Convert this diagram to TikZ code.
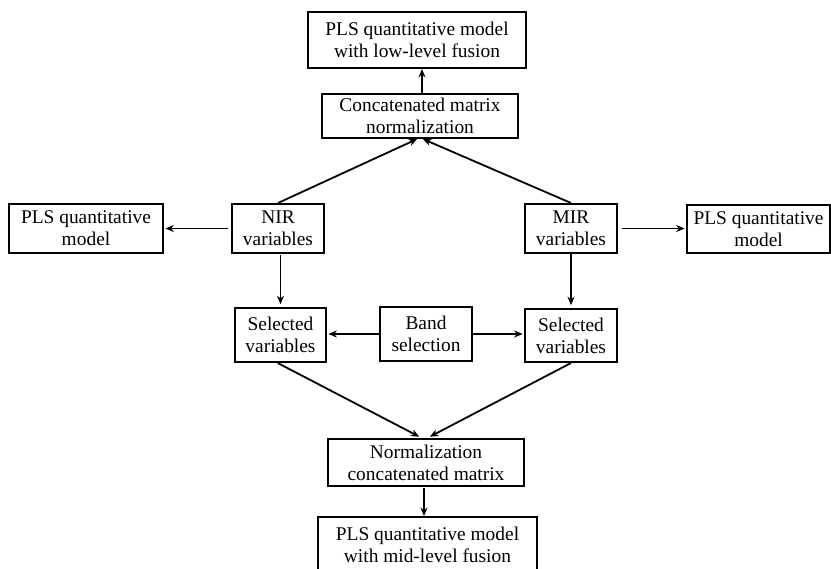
\documentclass[tikz,border=0pt]{standalone}
\usepackage{fontspec}
\setmainfont{Liberation Serif}
\usetikzlibrary{arrows.meta}

\tikzset{
	box/.style={draw, line width=0.5mm, align=center, inner sep=1pt, font=\fontsize{13.8}{15.8}\selectfont},
	arr/.style={line width=0.45mm, -{Stealth[length=6pt, width=5pt]}}
}

\begin{document}
\begin{tikzpicture}[x=0.025cm, y=-0.025cm]
			%%%%% START %%%%%
			
			\clip (0, 0) rectangle (831, 569);
			\fill[white] (0, 0) rectangle (831, 569);
			
			\node[box, minimum width=5.45cm, minimum height=1.4cm] (lowfus) at (417, 40) {PLS quantitative model\\with low-level fusion};
			\node[box, minimum width=4.9cm, minimum height=1.1cm] (concat) at (420, 116) {Concatenated matrix\\normalization};
			
			\node[box, minimum width=3.85cm, minimum height=1.225cm] (plsl) at (86, 228.5) {PLS quantitative\\model};
			\node[box, minimum width=2.3cm, minimum height=1.225cm] (nir) at (278, 228.5) {NIR\\variables};
			\node[box, minimum width=2.3cm, minimum height=1.225cm] (mir) at (571, 228.5) {MIR\\variables};
			\node[box, minimum width=3.575cm, minimum height=1.2cm] (plsr) at (758.5, 229) {PLS quantitative\\model};
			
			\node[box, minimum width=2.275cm, minimum height=1.35cm] (sell) at (280.5, 335) {Selected\\variables};
			\node[box, minimum width=2.3cm, minimum height=1.325cm] (band) at (426, 334) {Band\\selection};
			\node[box, minimum width=2.3cm, minimum height=1.325cm] (selr) at (571, 335.5) {Selected\\variables};
			
			\node[box, minimum width=4.9cm, minimum height=1.175cm] (norm) at (426, 462.5) {Normalization\\concatenated matrix};
			\node[box, minimum width=5.475cm, minimum height=1.4cm] (midfus) at (427.5, 545) {PLS quantitative model\\with mid-level fusion};
			
			% low-level branch
			\draw[arr] (concat.north -| 422, 0) -- (lowfus.south -| 422, 0);
			\draw[arr] (nir.north) -- ([xshift=-2pt]concat.south);
			\draw[arr] (mir.north) -- ([xshift=2pt]concat.south);
			
			% single spectra models
			\draw[arr, shorten <=2pt, shorten >=1pt] (nir.west) -- (nir.west -| plsl.east);
			\draw[arr, shorten <=3pt, shorten >=1pt] (mir.east) -- (mir.east -| plsr.west);
			
			% band selection
			\draw[arr, shorten <=1pt, shorten >=2pt] (nir.south -| sell.north) -- (sell.north);
			\draw[arr, shorten >=2pt] (mir.south) -- (selr.north);
			\draw[arr, shorten >=1pt] (band.west) -- (band.west -| sell.east);
			\draw[arr, shorten >=1pt] (band.east) -- (band.east -| selr.west);
			
			% mid-level branch
			\draw[arr, shorten >=2pt] ([xshift=-2pt]sell.south) -- ([xshift=-3pt]norm.north);
			\draw[arr, shorten >=2pt] (selr.south) -- ([xshift=1pt]norm.north);
			\draw[arr, shorten <=1pt] (norm.south -| 424, 0) -- (midfus.north -| 424, 0);
			
			%%%%% END %%%%%
		\end{tikzpicture}
\end{document}
